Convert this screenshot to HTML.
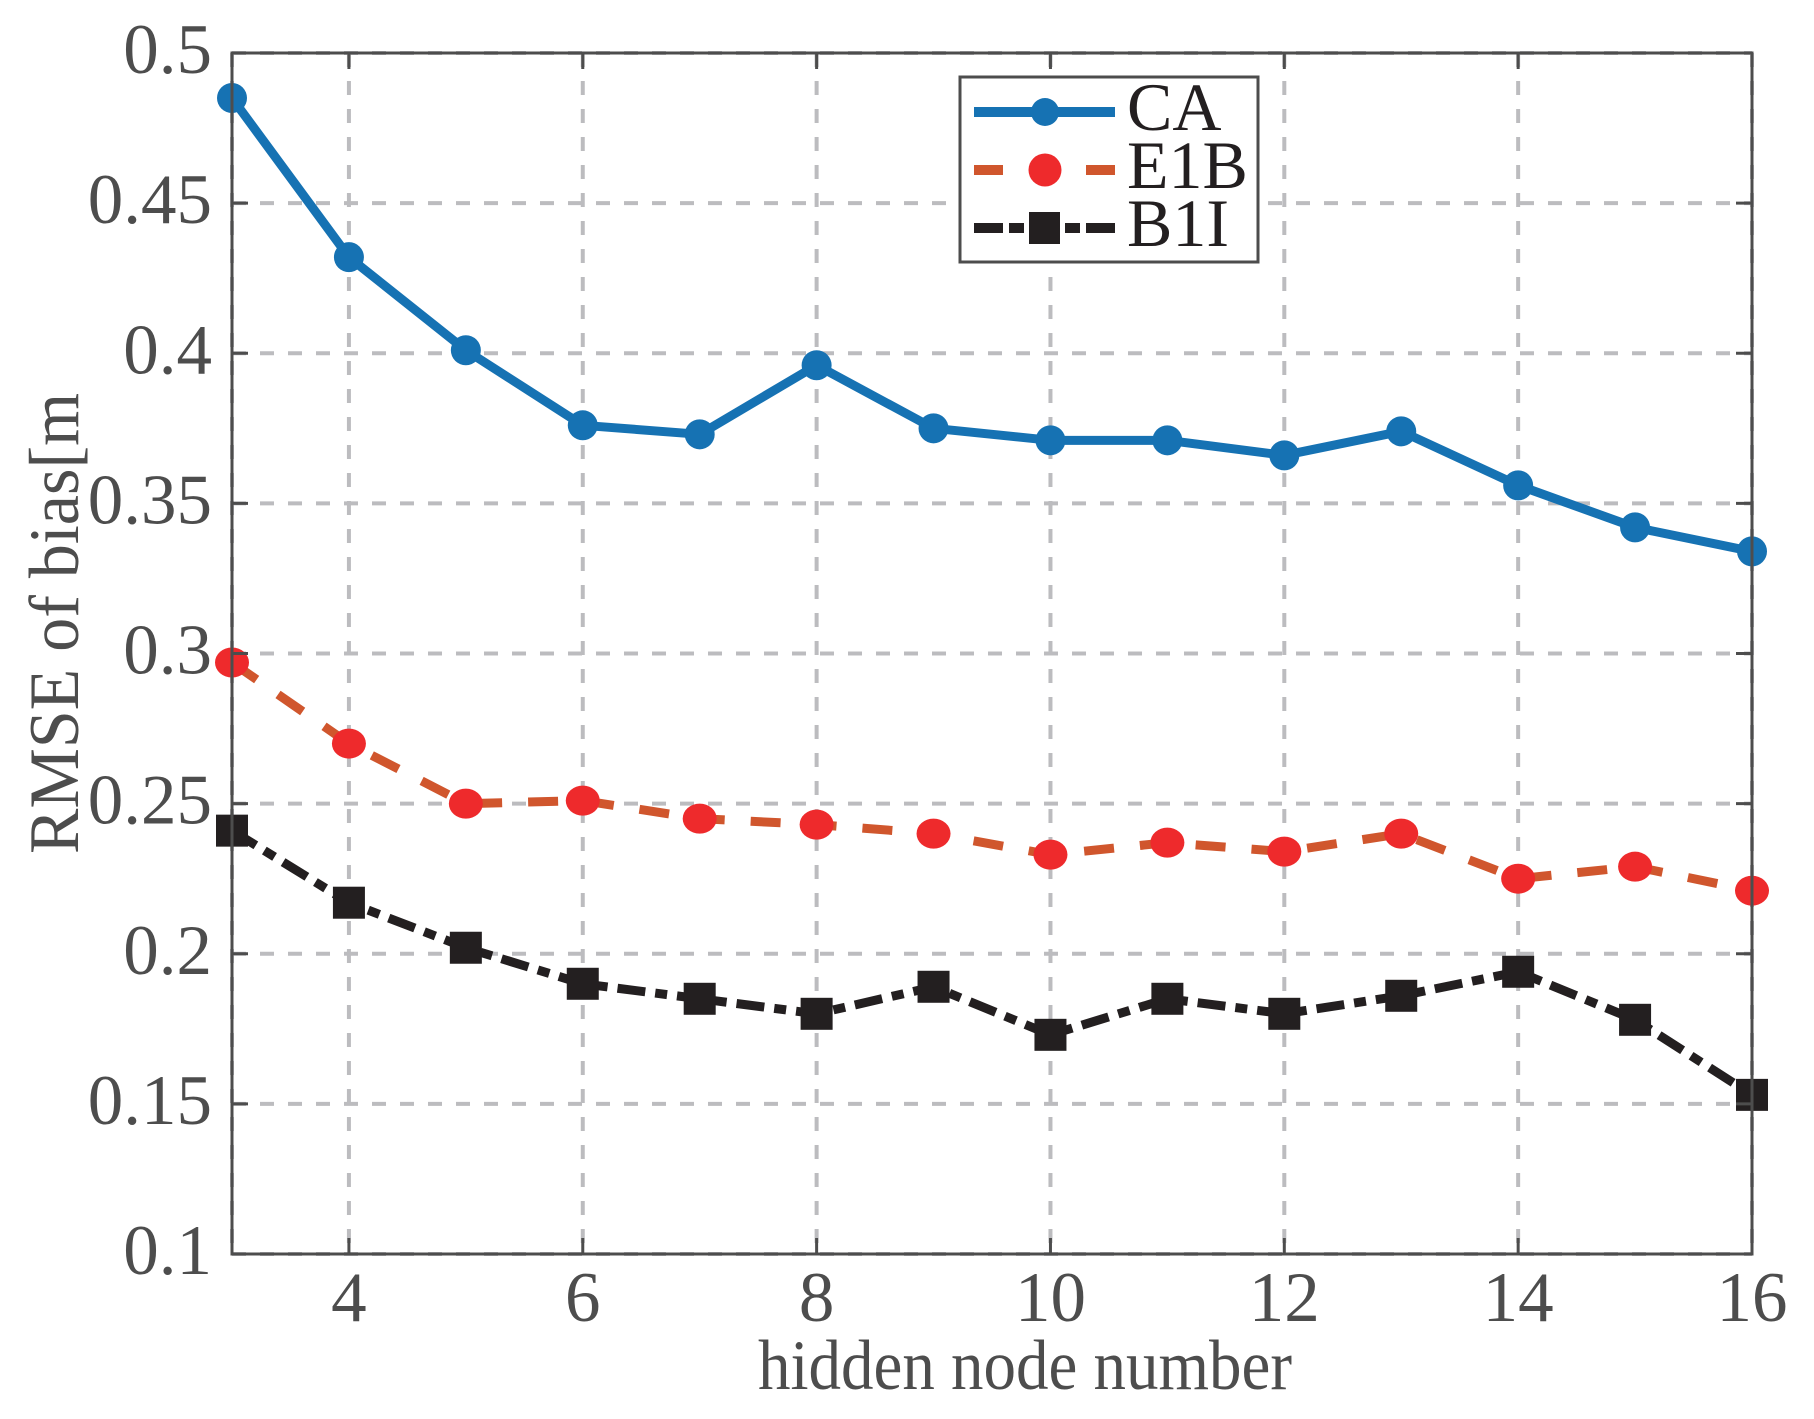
<!DOCTYPE html>
<html><head><meta charset="utf-8"><style>html,body{margin:0;padding:0;background:#fff}svg{display:block}</style></head>
<body>
<svg id="s" width="1814" height="1419" xmlns="http://www.w3.org/2000/svg" font-family="'Liberation Serif', serif">
<g id="grid"></g>
<g id="series"></g>
<g id="ax"></g>
<g font-size="71" fill="#4d4d4d" id="lab"></g>
<text x="758" y="1389" font-size="71" fill="#4d4d4d" textLength="534" lengthAdjust="spacingAndGlyphs">hidden node number</text>
<text transform="translate(78,854) rotate(-90)" font-size="71" fill="#4d4d4d" textLength="461" lengthAdjust="spacingAndGlyphs">RMSE of bias[m</text>
<g id="leg"></g>
</svg>
<script>
const L=232,R=1752,T=53,B=1254;
const X=v=>L+(v-3)*(R-L)/13, Y=v=>B-(v-0.1)*(B-T)/0.4;
const ns="http://www.w3.org/2000/svg";
function el(p,t,a,txt){const e=document.createElementNS(ns,t);for(const k in a)e.setAttribute(k,a[k]);if(txt!=null)e.textContent=txt;document.getElementById(p).appendChild(e);return e;}
const gs={stroke:"#bcbcbf","stroke-width":4,"stroke-dasharray":"14 14",fill:"none"};
for(let i=4;i<=16;i+=2){el("grid","line",Object.assign({x1:X(i),x2:X(i),y1:T,y2:B},gs));}
for(let k=1;k<=9;k++){const v=0.1+k*0.05;el("grid","line",Object.assign({x1:L,x2:R,y1:Y(v),y2:Y(v)},gs));}
el("grid","line",Object.assign({x1:X(3),x2:X(3),y1:T,y2:B},gs));
el("grid","line",Object.assign({x1:L,x2:R,y1:Y(0.1),y2:Y(0.1)},gs));
const ca=[0.485,0.432,0.401,0.376,0.373,0.396,0.375,0.371,0.371,0.366,0.374,0.356,0.342,0.334];
const e1=[0.297,0.270,0.250,0.251,0.245,0.243,0.240,0.233,0.237,0.234,0.240,0.225,0.229,0.221];
const b1=[0.241,0.217,0.202,0.190,0.185,0.180,0.189,0.173,0.185,0.180,0.186,0.194,0.178,0.153];
const pts=a=>a.map((v,i)=>X(3+i)+","+Y(v)).join(" ");
el("series","polyline",{points:pts(b1),fill:"none",stroke:"#231f20","stroke-width":9,"stroke-dasharray":"28 10 12 10"});
b1.forEach((v,i)=>el("series","rect",{x:X(3+i)-16,y:Y(v)-16,width:32,height:32,fill:"#231f20"}));
el("series","polyline",{points:pts(e1),fill:"none",stroke:"#d0562d","stroke-width":9,"stroke-dasharray":"30 26"});
e1.forEach((v,i)=>el("series","ellipse",{cx:X(3+i),cy:Y(v),rx:17,ry:15,fill:"#ee2a2c"}));
el("series","polyline",{points:pts(ca),fill:"none",stroke:"#1672b3","stroke-width":9,"stroke-linejoin":"round"});
ca.forEach((v,i)=>el("series","circle",{cx:X(3+i),cy:Y(v),r:15,fill:"#1672b3"}));
el("ax","rect",{x:L,y:T,width:R-L,height:B-T,fill:"none",stroke:"#4d4d4d","stroke-width":3});
for(let i=4;i<=16;i+=2){el("ax","line",{x1:X(i),x2:X(i),y1:B,y2:B-16,stroke:"#4d4d4d","stroke-width":3});el("ax","line",{x1:X(i),x2:X(i),y1:T,y2:T+16,stroke:"#4d4d4d","stroke-width":3});
 el("lab","text",{x:X(i),y:1321,"text-anchor":"middle"},String(i));}
for(let k=0;k<=8;k++){const v=0.1+k*0.05;el("ax","line",{x1:L,x2:L+16,y1:Y(v),y2:Y(v),stroke:"#4d4d4d","stroke-width":3});el("ax","line",{x1:R,x2:R-16,y1:Y(v),y2:Y(v),stroke:"#4d4d4d","stroke-width":3});
 let s=(Math.round(v*100)/100).toString();el("lab","text",{x:212,y:Y(v)+20,"text-anchor":"end"},s);}
el("leg","rect",{x:960,y:77,width:298,height:185,fill:"#fff",stroke:"#4d4d4d","stroke-width":3});
el("leg","line",{x1:974,x2:1115,y1:112,y2:112,stroke:"#1672b3","stroke-width":10});
el("leg","circle",{cx:1045,cy:112,r:14,fill:"#1672b3"});
el("leg","line",{x1:974,x2:1003,y1:170,y2:170,stroke:"#d0562d","stroke-width":10});
el("leg","line",{x1:1086,x2:1115,y1:170,y2:170,stroke:"#d0562d","stroke-width":10});
el("leg","circle",{cx:1045,cy:170,r:16.5,fill:"#ee2a2c"});
el("leg","line",{x1:974,x2:1115,y1:228,y2:228,stroke:"#231f20","stroke-width":10,"stroke-dasharray":"29 6 15 6"});
el("leg","rect",{x:1029,y:212,width:31,height:32,fill:"#231f20"});
[["CA",130],["E1B",188],["B1I",246]].forEach(a=>el("leg","text",{x:1127,y:a[1],"font-size":68,fill:"#231f20"},a[0]));
</script>
</body></html>
